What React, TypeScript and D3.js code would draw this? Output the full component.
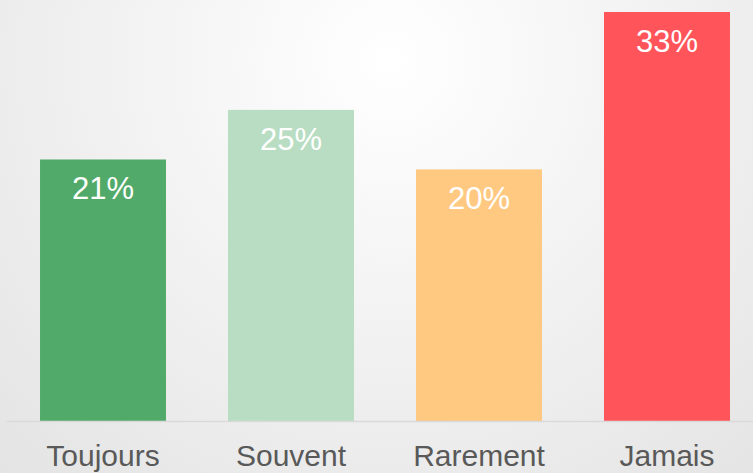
import React, { useEffect, useRef } from "react";
import * as d3 from "d3";

const categories = ["Toujours", "Souvent", "Rarement", "Jamais"];
const values = [21.1, 25.1, 20.3, 33.0];
const valueLabels = ["21%", "25%", "20%", "33%"];
const colors = ["#52aa6a", "#b8ddc2", "#ffc982", "#ff545a"];

const App = () => {
  const ref = useRef<SVGSVGElement>(null);

  useEffect(() => {
    document.body.style.margin = "0";
    const width = 753;
    const height = 473;
    const baseline = 421;

    const svg = d3.select(ref.current);
    svg.selectAll("*").remove();
    svg.attr("width", width).attr("height", height);

    // background glow
    const defs = svg.append("defs");
    const grad = defs
      .append("radialGradient")
      .attr("id", "bg")
      .attr("gradientUnits", "userSpaceOnUse")
      .attr("cx", 390)
      .attr("cy", 60)
      .attr("r", 560);
    grad.append("stop").attr("offset", "0%").attr("stop-color", "#ffffff");
    grad.append("stop").attr("offset", "100%").attr("stop-color", "#e4e4e4");
    svg.append("rect").attr("width", width).attr("height", height).attr("fill", "url(#bg)");

    const x = d3.scaleBand().domain(categories).range([9, 761]).paddingInner(0.33).paddingOuter(0.165);
    const y = d3.scaleLinear().domain([0, 33]).range([baseline, 12]);

    const g = svg.append("g");

    g.selectAll("rect.bar")
      .data(values)
      .join("rect")
      .attr("class", "bar")
      .attr("x", (_, i) => x(categories[i])!)
      .attr("y", (d) => y(d))
      .attr("width", x.bandwidth())
      .attr("height", (d) => baseline - y(d))
      .attr("fill", (_, i) => colors[i]);

    // axis line
    g.append("line")
      .attr("x1", 7)
      .attr("x2", width)
      .attr("y1", baseline + 0.5)
      .attr("y2", baseline + 0.5)
      .attr("stroke", "#d9d9d9")
      .attr("stroke-width", 1.5);

    g.selectAll("text.val")
      .data(values)
      .join("text")
      .attr("class", "val")
      .attr("x", (_, i) => x(categories[i])! + x.bandwidth() / 2)
      .attr("y", (d) => y(d) + 40)
      .attr("text-anchor", "middle")
      .attr("fill", "#ffffff")
      .attr("font-family", "'Liberation Sans', Arial, sans-serif")
      .attr("font-size", "31px")
      .text((_, i) => valueLabels[i]);

    g.selectAll("text.cat")
      .data(categories)
      .join("text")
      .attr("class", "cat")
      .attr("x", (d) => x(d)! + x.bandwidth() / 2)
      .attr("y", 466)
      .attr("text-anchor", "middle")
      .attr("fill", "#595959")
      .attr("font-family", "'Liberation Sans', Arial, sans-serif")
      .attr("font-size", "30px")
      .text((d) => d);
  }, []);

  return <svg ref={ref} style={{ display: "block" }}></svg>;
};

export default App;
